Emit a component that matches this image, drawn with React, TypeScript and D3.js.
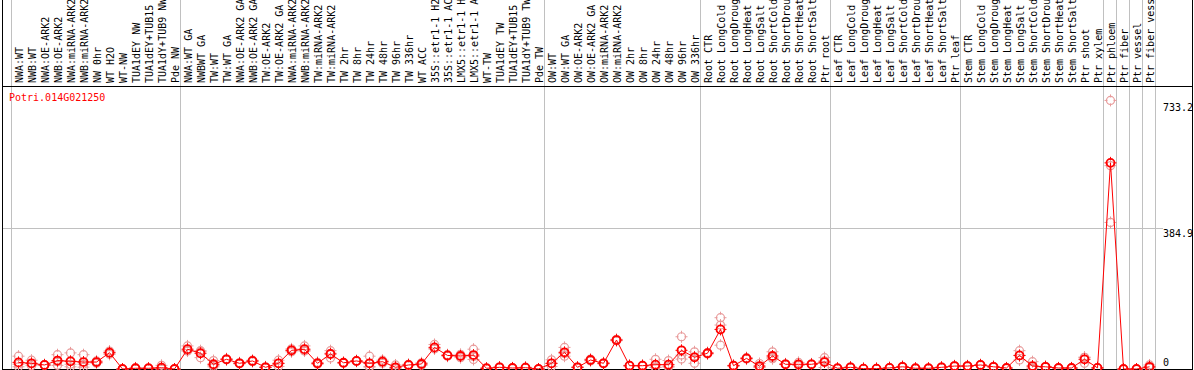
import React from "react";
import * as d3 from "d3";

const title = "Potri.014G021250";

const labels: string[] = [
  "NWA:WT", "NWB:WT", "NWA:OE-ARK2", "NWB:OE-ARK2", "NWA:miRNA-ARK2", "NWB:miRNA-ARK2", "NW 0hr", "WT H2O", "WT-NW", "TUA1dEY NW", "TUA1dEY+TUB15", "TUA1dY+TUB9 NW", "Pde NW",
  "NWA:WT GA", "NWBWT GA", "TW:WT", "TW:WT GA", "NWA:OE-ARK2 GA", "NWB:OE-ARK2 GA", "TW:OE-ARK2", "TW:OE-ARK2 GA", "NWA:miRNA-ARK2", "NWB:miRNA-ARK2", "TW:miRNA-ARK2", "TW:miRNA-ARK2", "TW 2hr", "TW 8hr", "TW 24hr", "TW 48hr", "TW 96hr", "TW 336hr", "WT ACC", "35S::etr1-1 H2O", "35S::etr1-1 ACC", "LMX5::etr1-1 H2O", "LMX5::etr1-1 ACC", "WT-TW", "TUA1dEY TW", "TUA1dEY+TUB15", "TUA1dY+TUB9 TW", "Pde TW",
  "OW:WT", "OW:WT GA", "OW:OE-ARK2", "OW:OE-ARK2 GA", "OW:miRNA-ARK2", "OW:miRNA-ARK2", "OW 2hr", "OW 8hr", "OW 24hr", "OW 48hr", "OW 96hr", "OW 336hr",
  "Root CTR", "Root LongCold", "Root LongDrought", "Root LongHeat", "Root LongSalt", "Root ShortCold", "Root ShortDrought", "Root ShortHeat", "Root ShortSalt", "Ptr root",
  "Leaf CTR", "Leaf LongCold", "Leaf LongDrought", "Leaf LongHeat", "Leaf LongSalt", "Leaf ShortCold", "Leaf ShortDrought", "Leaf ShortHeat", "Leaf ShortSalt", "Ptr leaf",
  "Stem CTR", "Stem LongCold", "Stem LongDrought", "Stem LongHeat", "Stem LongSalt", "Stem ShortCold", "Stem ShortDrought", "Stem ShortHeat", "Stem ShortSalt", "Ptr shoot", "Ptr xylem",
  "Ptr phloem", "Ptr fiber", "Ptr vessel", "Ptr fiber vessel",
];

// group boundaries (column index where a new group starts)
const groupBreaks: number[] = [0, 13, 41, 53, 63, 73, 84, 85, 86, 87, 88];

const means: number[] = [
  18, 15.5, 11, 23, 21, 19, 19, 44.5, 0, 2, 2, 3.5, 0,
  54, 43, 13, 26.5, 15.5, 22, 4.6, 15.5, 51, 54, 15.5, 41, 17, 22, 15.5, 20, 4.6, 11, 13.7, 59, 37, 35.5, 38, 2, 4.6, 2.7, 3.6, 0,
  15.5, 45.5, 4.6, 24.6, 15.5, 79, 9, 9, 11.8, 11.8, 51, 32,
  43, 108, 9, 29, 8, 35.5, 12.8, 12.8, 12.8, 19,
  2, 4.6, 1, 1, 3, 6, 2, 2, 4.6, 8,
  8, 11, 6, 2.7, 37, 8, 6, 2.7, 2.7, 26.5, 3,
  562.7, 0, 0, 6,
];

const replicates: number[][] = [
  [35, 13, 6], [24, 14, 9], [12, 11, 10], [39, 20, 10], [44, 13, 6], [39, 13, 5], [22, 19, 16], [49, 44, 40], [0, 0, 0], [3, 2, 1], [2, 2, 2], [10, 0.5, 0], [0, 0, 0],
  [63, 50, 49], [50, 48, 31], [23, 10, 6], [28, 26, 25], [17, 15, 14], [24, 22, 20], [6, 4, 4], [24, 15, 7], [55, 51, 47], [63, 50, 49], [18, 15, 13], [50, 43, 30], [18, 17, 16], [23, 22, 21], [35, 7, 5], [24, 20, 16], [11, 2, 1], [13, 11, 9], [17, 14, 10], [67, 55, 55], [39, 37, 35], [40, 36, 31], [54, 34, 26], [2, 2, 2], [5, 5, 4], [3, 3, 2], [5, 3, 3], [0, 0, 0],
  [25, 15, 7], [59, 42, 35], [5, 5, 4], [27, 25, 22], [17, 15, 14], [81, 79, 77], [10, 9, 8], [10, 9, 8], [26.5, 5, 4], [23, 7, 5], [88, 38, 27], [47, 33, 15.5],
  [45, 43, 41], [140, 120, 65], [10, 9, 8], [31, 29, 27], [15, 5, 4], [47, 31, 28], [14, 13, 12], [18, 10, 10], [14, 13, 12], [31, 22, 4],
  [2, 2, 2], [5, 5, 4], [1, 1, 1], [1, 1, 1], [4, 3, 2], [7, 6, 5], [2, 2, 2], [2, 2, 2], [5, 5, 4], [9, 8, 7],
  [9, 8, 7], [12, 11, 10], [7, 6, 5], [3, 3, 2], [50, 37, 24.6], [20, 3, 1], [7, 6, 5], [3, 3, 2], [3, 3, 2], [32, 32, 15.5], [4, 3, 2],
  [733.2, 555, 400], [0, 0, 0], [0, 0, 0], [11, 4, 3],
];

const yTicks: number[] = [0, 384.9, 733.2];

const W = 1194;
const H = 370;
const FONT = "'DejaVu Sans Mono', 'Liberation Mono', monospace";

function Marker({ cx, cy, color, sw }: { cx: number; cy: number; color: string; sw: number }) {
  const r = 4;
  return (
    <g stroke={color} fill="none" strokeWidth={sw}>
      <circle cx={cx} cy={cy} r={r} />
      <line x1={cx} x2={cx} y1={cy - r - 2} y2={cy - r + 1} strokeWidth={1} />
      <line x1={cx} x2={cx} y1={cy + r - 1} y2={cy + r + 2} strokeWidth={1} />
      <line x1={cx - r - 2} x2={cx - r + 1} y1={cy} y2={cy} strokeWidth={1} />
      <line x1={cx + r - 1} x2={cx + r + 2} y1={cy} y2={cy} strokeWidth={1} />
    </g>
  );
}

export default function App() {
  const n = labels.length;
  const xCol = d3.scaleLinear().domain([0, n]).range([11, 1155]);
  const y = d3.scaleLinear().domain([0, 384.9]).range([369, 228]);
  const px = (i: number) => xCol(i + 0.5) + 1;

  const line = d3
    .line<number>()
    .x((_, i) => px(i))
    .y((d) => y(d));

  const top = 86;
  const bottom = 369;
  const right = 1192;

  return (
    <svg
      width={W}
      height={H}
      style={{ position: "absolute", left: 0, top: 0, background: "#fff" }}
      fontFamily={FONT}
    >
      <rect x={0} y={0} width={W} height={H} fill="#fff" />
      {/* vertical group gridlines */}
      {groupBreaks.map((b) => (
        <line
          key={"g" + b}
          x1={Math.round(xCol(b)) + 0.5}
          x2={Math.round(xCol(b)) + 0.5}
          y1={0}
          y2={bottom}
          stroke="#c0c0c0"
          strokeWidth={1}
        />
      ))}
      {/* horizontal gridline */}
      <line
        x1={2}
        x2={1163}
        y1={Math.round(y(384.9)) + 0.5}
        y2={Math.round(y(384.9)) + 0.5}
        stroke="#c0c0c0"
        strokeWidth={1}
      />
      {/* column labels */}
      {labels.map((l, i) => (
        <text
          key={"l" + i}
          transform={`translate(${xCol(i + 0.5) + 5},83) rotate(-90)`}
          fontSize={10}
          fill="#000"
        >
          {l}
        </text>
      ))}
      {/* frame */}
      <line x1={2.5} x2={2.5} y1={0} y2={bottom} stroke="#000" />
      <line x1={right + 0.5} x2={right + 0.5} y1={0} y2={bottom} stroke="#000" />
      <line x1={2} x2={right + 1} y1={top + 0.5} y2={top + 0.5} stroke="#000" />
      <line x1={2} x2={right + 1} y1={bottom + 0.5} y2={bottom + 0.5} stroke="#000" />
      {/* title */}
      <text x={9} y={101} fontSize={10} fill="#ff0000">
        {title}
      </text>
      {/* y tick labels */}
      {yTicks.map((t) => (
        <text
          key={"t" + t}
          x={1163}
          y={t === 0 ? 366 : y(t) + (t > 500 ? 10.5 : 8.5)}
          fontSize={10}
          fill="#000"
        >
          {String(t)}
        </text>
      ))}
      {/* replicates */}
      {replicates.map((reps, i) =>
        reps.map((v, j) => (
          <Marker key={`r${i}-${j}`} cx={px(i)} cy={y(v)} color="#e89a9a" sw={1.2} />
        ))
      )}
      {/* mean line */}
      <path d={line(means) || ""} fill="none" stroke="#ff0000" strokeWidth={1} />
      {/* mean markers */}
      {means.map((v, i) => (
        <Marker key={"m" + i} cx={px(i)} cy={y(v)} color="#ff0000" sw={1.8} />
      ))}
    </svg>
  );
}
